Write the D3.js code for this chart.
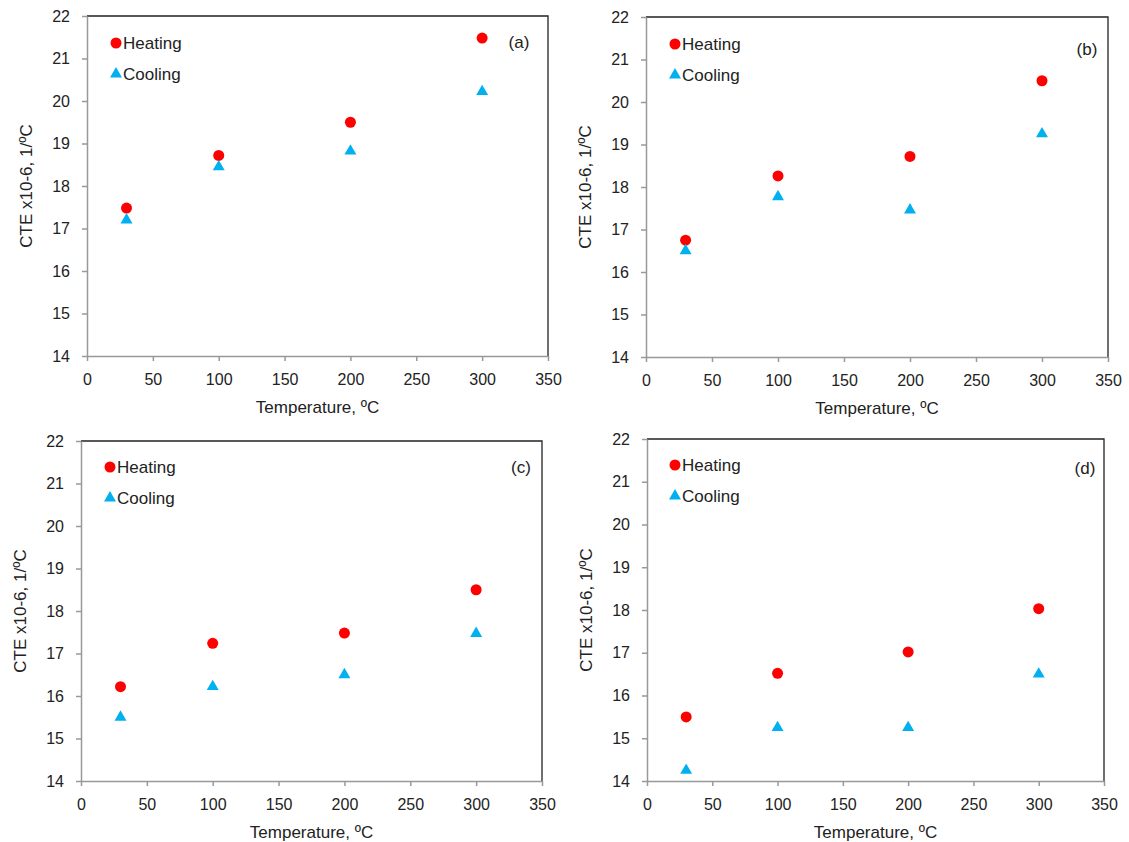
<!DOCTYPE html>
<html>
<head>
<meta charset="utf-8">
<script src="https://cdn.jsdelivr.net/npm/d3@7"></script>
<style>
  body { margin: 0; background: #fff; }
  svg text { font-family: "Liberation Sans", Arial, sans-serif; fill: #222; }
</style>
</head>
<body>
<div id="chart"></div>
<script>
var W = 1129, H = 842;

// data
var temps = [30, 100, 200, 300];
var heatA = [17.48, 18.72, 19.5, 21.48];
var coolA = [17.2, 18.45, 18.82, 20.22];
var heatB = [16.75, 18.26, 18.72, 20.5];
var coolB = [16.5, 17.77, 17.46, 19.25];
var heatC = [16.22, 17.24, 17.48, 18.5];
var coolC = [15.5, 16.22, 16.5, 17.47];
var heatD = [15.5, 16.52, 17.02, 18.03];
var coolD = [14.25, 15.25, 15.25, 16.5];
var panelNames = ['(a)', '(b)', '(c)', '(d)'];
var seriesNames = ['Heating', 'Cooling'];
var xTicks = [0, 50, 100, 150, 200, 250, 300, 350];
var yTicks = [14, 15, 16, 17, 18, 19, 20, 21, 22];

var panels = [
  {name: panelNames[0], heat: heatA, cool: coolA, l: 87, r: 548, t: 16, b: 356, lx: 519, ly: 48, legX: 116, legY: 43},
  {name: panelNames[1], heat: heatB, cool: coolB, l: 646, r: 1108, t: 17, b: 357, lx: 1087, ly: 55, legX: 675, legY: 44},
  {name: panelNames[2], heat: heatC, cool: coolC, l: 81, r: 542, t: 441, b: 781, lx: 521, ly: 473, legX: 110, legY: 467},
  {name: panelNames[3], heat: heatD, cool: coolD, l: 647, r: 1104, t: 439, b: 781, lx: 1085, ly: 474, legX: 675, legY: 465}
];

var red = '#ff0000', blue = '#00b0f0';
var tri = d3.symbol().type(d3.symbolTriangle).size(62);

var svg = d3.select('#chart').append('svg')
  .attr('width', W).attr('height', H);

panels.forEach(function(p) {
  var x = d3.scaleLinear().domain([0, 350]).range([p.l, p.r]);
  var y = d3.scaleLinear().domain([14, 22]).range([p.b, p.t]);
  var g = svg.append('g');

  // top and right frame
  g.append('path')
    .attr('d', 'M' + p.l + ',' + p.t + 'H' + p.r + 'V' + p.b)
    .attr('fill', 'none').attr('stroke', '#222').attr('stroke-width', 1.3);

  var ya = g.append('g')
    .attr('transform', 'translate(' + p.l + ',0)')
    .call(d3.axisLeft(y).tickValues(yTicks).tickSize(5).tickPadding(12).tickSizeOuter(0));
  var xa = g.append('g')
    .attr('transform', 'translate(0,' + p.b + ')')
    .call(d3.axisBottom(x).tickValues(xTicks).tickSize(5).tickPadding(13).tickSizeOuter(0));
  [ya, xa].forEach(function(a) {
    a.selectAll('path, line').attr('stroke', '#999').attr('stroke-width', 1.5);
    a.selectAll('text').style('font-size', '16px').attr('fill', '#222');
  });

  g.append('text')
    .attr('x', (p.l + p.r) / 2).attr('y', p.b + 57)
    .attr('text-anchor', 'middle').style('font-size', '17px')
    .text('Temperature, ºC');
  g.append('text')
    .attr('transform', 'translate(' + (p.l - 55) + ',' + ((p.t + p.b) / 2) + ') rotate(-90)')
    .attr('text-anchor', 'middle').style('font-size', '17px')
    .text('CTE x10-6, 1/ºC');

  g.append('text')
    .attr('x', p.lx).attr('y', p.ly)
    .attr('text-anchor', 'middle').style('font-size', '17px')
    .text(p.name);

  // legend
  g.append('circle').attr('cx', p.legX).attr('cy', p.legY).attr('r', 5.5).attr('fill', red);
  g.append('text').attr('x', p.legX + 7).attr('y', p.legY + 6).style('font-size', '17px').text(seriesNames[0]);
  g.append('path').attr('d', tri).attr('transform', 'translate(' + p.legX + ',' + (p.legY + 31) + ')').attr('fill', blue);
  g.append('text').attr('x', p.legX + 7).attr('y', p.legY + 37).style('font-size', '17px').text(seriesNames[1]);

  g.selectAll('circle.heat')
    .data(p.heat).enter().append('circle')
    .attr('class', 'heat')
    .attr('cx', function(d, i) { return x(temps[i]); })
    .attr('cy', function(d) { return y(d); })
    .attr('r', 5.5).attr('fill', red);

  g.selectAll('path.cool')
    .data(p.cool).enter().append('path')
    .attr('class', 'cool')
    .attr('d', tri)
    .attr('transform', function(d, i) { return 'translate(' + x(temps[i]) + ',' + y(d) + ')'; })
    .attr('fill', blue);
});
</script>
</body>
</html>
